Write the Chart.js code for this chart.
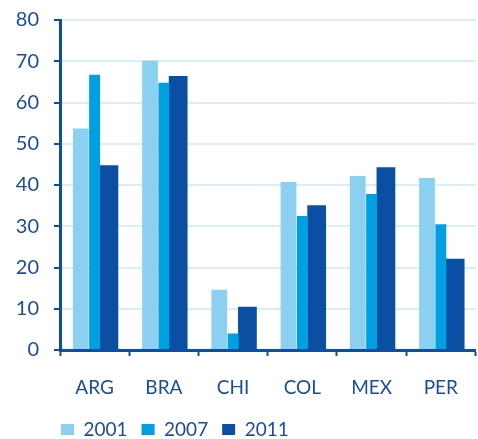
<!DOCTYPE html>
<html>
<head>
<meta charset="utf-8">
<script src="https://cdn.jsdelivr.net/npm/chart.js@4.4.1/dist/chart.umd.min.js"></script>
<style>
  html, body { margin: 0; padding: 0; background: #fff; }
</style>
</head>
<body>
<canvas id="chart" width="478" height="439"></canvas>
<script>
// data
const countries = ["ARG", "BRA", "CHI", "COL", "MEX", "PER"];
const years = ["2001", "2007", "2011"];
const values2001 = [53.7, 70.1, 14.6, 40.7, 42.2, 41.7];
const values2007 = [66.7, 64.8, 4.0, 32.5, 37.8, 30.5];
const values2011 = [44.8, 66.4, 10.5, 35.1, 44.3, 22.1];
const yMin = 0, yMax = 80, yStep = 10;

const axisBlue = "#0b4ea2";
const textBlue = "#1a4c9e";
const gridBlue = "#d9eefa";
const font = "Lato";

// legend starts under the y axis instead of at the canvas edge
const legendStart = {
  id: "legendStart",
  afterLayout(chart) {
    const lg = chart.legend;
    const shift = chart.chartArea.left + 1 - lg.options.labels.padding - lg.left;
    lg.left += shift;
    lg.right += shift;
  }
};

const ctx = document.getElementById("chart").getContext("2d");

new Chart(ctx, {
  type: "bar",
  data: {
    labels: countries,
    datasets: [
      {
        label: years[0],
        data: values2001,
        backgroundColor: "#8bd0f1",
        categoryPercentage: 0.6,
        barPercentage: 1.14
      },
      {
        label: years[1],
        data: values2007,
        backgroundColor: "#009fe2",
        categoryPercentage: 0.6,
        barPercentage: 0.79
      },
      {
        label: years[2],
        data: values2011,
        backgroundColor: "#0b4fa3",
        categoryPercentage: 0.62,
        barPercentage: 1.31
      }
    ]
  },
  options: {
    responsive: false,
    animation: false,
    layout: {
      padding: { left: 0, right: 0, top: 20, bottom: -10 }
    },
    scales: {
      x: {
        offset: true,
        grid: {
          display: true,
          offset: true,
          drawOnChartArea: false,
          drawTicks: true,
          tickLength: 6,
          tickColor: axisBlue,
          tickWidth: 2
        },
        border: { display: true, color: axisBlue, width: 3, z: 1 },
        ticks: {
          color: textBlue,
          padding: 20,
          font: { family: font, size: 19 }
        },
        afterFit: scale => { scale.height = 56; }
      },
      y: {
        min: yMin,
        max: yMax,
        ticks: {
          stepSize: yStep,
          color: textBlue,
          padding: 15,
          font: { family: font, size: 20 }
        },
        grid: {
          color: gridBlue,
          lineWidth: 2,
          tickColor: axisBlue,
          tickLength: 6,
          tickWidth: 2
        },
        border: { display: true, color: axisBlue, width: 3, z: 1 },
        afterFit: scale => {
          scale.width = 60;
          scale.paddingTop = 0;
          scale.paddingBottom = 0;
        }
      }
    },
    plugins: {
      legend: {
        position: "bottom",
        align: "start",
        labels: {
          boxWidth: 13,
          boxHeight: 11,
          padding: 14,
          color: textBlue,
          font: { family: font, size: 19 }
        }
      },
      tooltip: { enabled: false }
    }
  },
  plugins: [legendStart]
});
</script>
</body>
</html>
